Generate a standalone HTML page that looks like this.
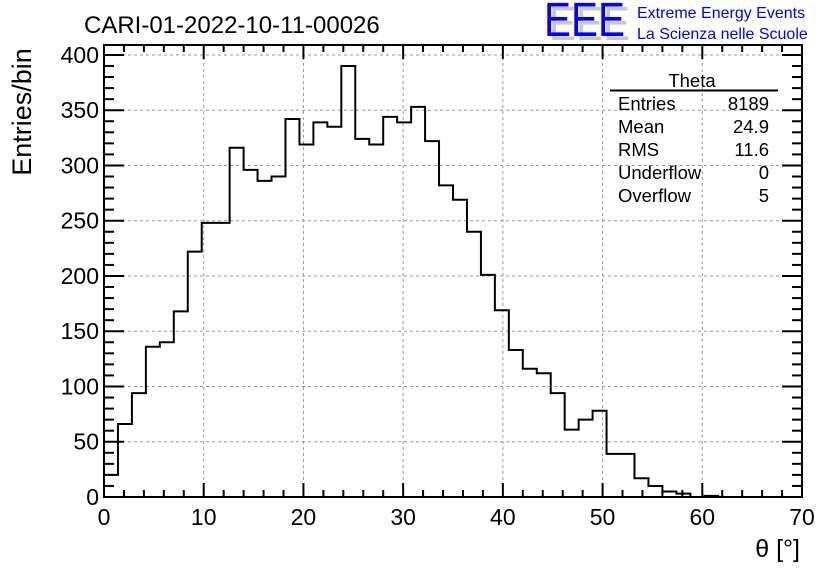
<!DOCTYPE html>
<html><head><meta charset="utf-8"><style>
body{margin:0;background:#fff;}
svg{display:block;font-family:"Liberation Sans",sans-serif;}
</style></head><body>
<svg id="c" width="836" height="572" viewBox="0 0 836 572">
<rect width="836" height="572" fill="#fff"/>
<g id="grid"></g>
<g id="ticks"></g>
<path id="hist" fill="none" stroke="#000" stroke-width="2"/>
<rect x="104" y="45" width="698" height="452" fill="none" stroke="#000" stroke-width="2"/>
<g id="labels" font-size="23"></g>
<text x="84" y="33" font-size="24">CARI-01-2022-10-11-00026</text>
<text transform="translate(31,112) rotate(-90)" text-anchor="middle" font-size="27">Entries/bin</text>
<text x="800" y="557" text-anchor="end" font-size="25">θ [°]</text>
<g font-size="18.5">
<text x="692" y="87" text-anchor="middle">Theta</text>
<line x1="610" y1="90.5" x2="778" y2="90.5" stroke="#000" stroke-width="2"/>
<text x="618" y="110">Entries</text><text x="769" y="110" text-anchor="end">8189</text>
<text x="618" y="133">Mean</text><text x="769" y="133" text-anchor="end">24.9</text>
<text x="618" y="156">RMS</text><text x="769" y="156" text-anchor="end">11.6</text>
<text x="618" y="179">Underflow</text><text x="769" y="179" text-anchor="end">0</text>
<text x="618" y="202">Overflow</text><text x="769" y="202" text-anchor="end">5</text>
</g>
<g>
<text x="549" y="40" font-size="48" fill="#c8c8c8" textLength="81" lengthAdjust="spacingAndGlyphs">EEE</text>
<text x="544" y="36" font-size="48" fill="#0000ff" textLength="81" lengthAdjust="spacingAndGlyphs">EEE</text>
<text x="637" y="18" font-size="16" fill="#0000ff">Extreme Energy Events</text>
<text x="637" y="39" font-size="16" fill="#0000ff">La Scienza nelle Scuole</text>
</g>
</svg>
<script>
const binCounts=[20,66,94,136,140,168,222,248,248,316,296,286,290,342,319,339,335,390,324,319,344,339,353,322,282,269,240,201,169,133,116,112,94,61,70,78,39,39,17,10,5,3,0,1,0,0,0,0,0,0];
const xTickLabels=[0,10,20,30,40,50,60,70];
const yTickLabels=[0,50,100,150,200,250,300,350,400];
const xMin=0,xMax=70,yMin=0,yMax=409;
const L=104,R=802,T=45,B=497;
const sx=v=>L+(v-xMin)/(xMax-xMin)*(R-L);
const sy=v=>B-(v-yMin)/(yMax-yMin)*(B-T);
const NS="http://www.w3.org/2000/svg";
function mk(tag,attrs,parent){const e=document.createElementNS(NS,tag);for(const k in attrs)e.setAttribute(k,attrs[k]);parent.appendChild(e);return e;}
const grid=document.getElementById('grid'),ticks=document.getElementById('ticks'),labels=document.getElementById('labels');
xTickLabels.forEach(v=>{
  if(v>xMin&&v<xMax){const g=mk('line',{x1:sx(v),x2:sx(v),y1:T,y2:B,stroke:'#999','stroke-dasharray':'3,3','stroke-width':1},grid);
  
  }
  const t=mk('text',{x:sx(v),y:B+28,'text-anchor':'middle'},labels);t.textContent=v;
  
  
});
yTickLabels.forEach(v=>{
  if(v>yMin){const g=mk('line',{x1:L,x2:R,y1:sy(v),y2:sy(v),stroke:'#999','stroke-dasharray':'3,3','stroke-width':1},grid);
  
  }
  const t=mk('text',{x:L-5,y:sy(v)+8,'text-anchor':'end'},labels);t.textContent=v;
  
  
});
for(let v=0;v<=70;v+=2){const len=v%10===0?14:7;
  mk('line',{x1:sx(v),x2:sx(v),y1:B,y2:B-len,stroke:'#000','stroke-width':2},ticks);
  mk('line',{x1:sx(v),x2:sx(v),y1:T,y2:T+len,stroke:'#000','stroke-width':2},ticks);}
for(let v=0;v<=400;v+=10){const len=v%50===0?20:10;
  mk('line',{x1:L,x2:L+len,y1:sy(v),y2:sy(v),stroke:'#000','stroke-width':2},ticks);
  mk('line',{x1:R,x2:R-len,y1:sy(v),y2:sy(v),stroke:'#000','stroke-width':2},ticks);}
const w=(xMax-xMin)/binCounts.length;
let d='M'+sx(0)+','+sy(0);
binCounts.forEach((c,i)=>{d+=' L'+sx(i*w)+','+sy(c)+' L'+sx((i+1)*w)+','+sy(c);});
document.getElementById('hist').setAttribute('d',d);
</script>
</body></html>
